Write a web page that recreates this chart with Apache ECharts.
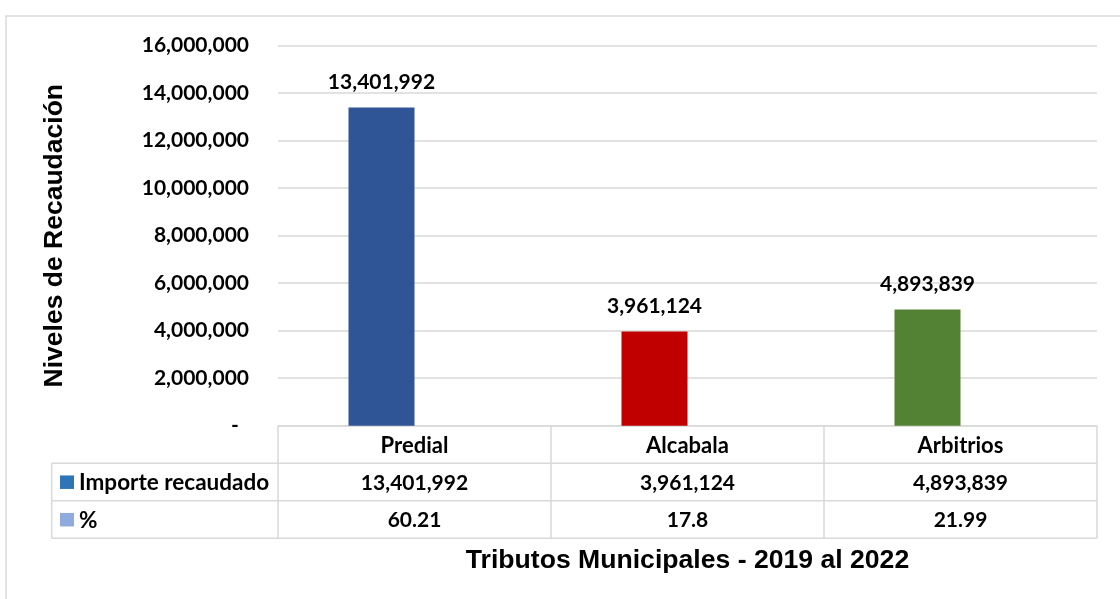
<!DOCTYPE html>
<html>
<head>
<meta charset="utf-8">
<script src="https://cdn.jsdelivr.net/npm/echarts@6/dist/echarts.min.js"></script>
<style>
html,body{margin:0;padding:0;background:#fff;}
#c{width:1120px;height:599px;}
</style>
</head>
<body>
<div id="c"></div>
<script>
// ---- data ----
const categories = ['Predial', 'Alcabala', 'Arbitrios'];
const importe = [13401992, 3961124, 4893839];
const porcentaje = ['60.21', '17.8', '21.99'];
const seriesNames = ['Importe recaudado', '%'];
const barColors = ['#2F5597', '#C00000', '#548235'];
const keyColors = ['#2E75B6', '#8FAADC'];
const yAxisTitle = 'Niveles de Recaudación';
const xAxisTitle = 'Tributos Municipales - 2019 al 2022';

const numFont = 'Lato';
const titleFont = 'Liberation Sans';
const fmt = v => Number(v).toLocaleString('en-US');
const gridColor = '#D9D9D9';

const chart = echarts.init(document.getElementById('c'), null, {renderer: 'canvas'});

const option = {
  backgroundColor: '#fff',
  animation: false,
  grid: {left: 278, right: 23, top: 45.7, bottom: 173.3, containLabel: false},
  xAxis: {
    type: 'category',
    data: categories,
    axisLine: {show: false},
    axisTick: {show: false},
    axisLabel: {show: false},
    name: xAxisTitle,
    nameLocation: 'middle',
    nameGap: 121,
    nameTextStyle: {fontFamily: titleFont, fontWeight: 'bold', fontSize: 26.6, color: '#000', verticalAlign: 'top'}
  },
  yAxis: {
    type: 'value',
    min: 0, max: 16000000, interval: 2000000,
    axisLine: {show: false},
    axisTick: {show: false},
    splitLine: {lineStyle: {color: gridColor, width: 1.5}},
    axisLabel: {
      margin: 29,
      fontFamily: numFont, fontWeight: 'bold', fontSize: 21, color: '#000',
      formatter: v => v === 0 ? '-  ' : fmt(v)
    },
    name: yAxisTitle,
    nameLocation: 'middle',
    nameGap: 210,
    nameRotate: 90,
    nameTextStyle: {fontFamily: titleFont, fontWeight: 'bold', fontSize: 26.5, color: '#000'}
  },
  series: [
    {
      name: seriesNames[0],
      type: 'bar',
      barWidth: 66,
      barGap: '0%',
      data: importe.map((v, i) => ({value: v, itemStyle: {color: barColors[i]}})),
      label: {
        show: true, position: 'top', distance: 15,
        fontFamily: numFont, fontWeight: 'bold', fontSize: 21, color: '#000',
        formatter: p => fmt(p.value)
      }
    },
    {
      name: seriesNames[1],
      type: 'bar',
      barWidth: 66,
      barGap: '0%',
      itemStyle: {color: keyColors[1]},
      data: porcentaje.map(Number)
    }
  ]
};
chart.setOption(option);

// ---- data table drawn below the plot, positioned from the axes ----
function buildTable() {
  const c0 = chart.convertToPixel({xAxisIndex: 0}, 0);
  const c1 = chart.convertToPixel({xAxisIndex: 0}, 1);
  const bw = c1 - c0;
  const xL = c0 - bw / 2;
  const xR = xL + bw * categories.length;
  const y0 = chart.convertToPixel({yAxisIndex: 0}, 0);
  const rowH = 37.5;
  const legendLeft = 51.7;
  const yB = y0 + rowH * 3;
  const ls = {stroke: gridColor, lineWidth: 1.5};
  const els = [];
  const line = (x1, y1, x2, y2) => els.push({type: 'line', shape: {x1, y1, x2, y2}, style: ls, silent: true});
  // outer chart border
  els.push({type: 'rect', shape: {x: 6, y: 16, width: 1300, height: 800}, style: {fill: null, stroke: gridColor, lineWidth: 1.5}, silent: true, z: -1});
  // horizontal lines
  line(xL, y0, xR, y0);
  line(legendLeft, y0 + rowH, xR, y0 + rowH);
  line(legendLeft, y0 + rowH * 2, xR, y0 + rowH * 2);
  line(legendLeft, yB, xR, yB);
  // vertical lines
  line(legendLeft, y0 + rowH, legendLeft, yB);
  for (let i = 0; i <= categories.length; i++) line(xL + bw * i, y0, xL + bw * i, yB);
  const txtStyle = {fontFamily: numFont, fontWeight: 'bold', fontSize: 21, fill: '#000', align: 'center', verticalAlign: 'middle'};
  const rows = [categories, importe.map(fmt), porcentaje];
  rows.forEach((r, ri) => {
    r.forEach((t, ci) => {
      els.push({type: 'text', x: xL + bw * (ci + 0.5), y: y0 + rowH * (ri + 0.5) + 1, style: Object.assign({text: String(t)}, txtStyle, ri === 0 ? {fontSize: 22} : {}), silent: true});
    });
  });
  // legend keys in the table
  seriesNames.forEach((n, i) => {
    const yc = y0 + rowH * (i + 1.5);
    els.push({type: 'rect', shape: {x: 60, y: yc - 6.5, width: 14, height: 13.5}, style: {fill: keyColors[i]}, silent: true});
    els.push({type: 'text', x: 79, y: yc + 1, style: {text: n, fontFamily: numFont, fontWeight: 'bold', fontSize: 22.5, fill: '#000', align: 'left', verticalAlign: 'middle'}, silent: true});
  });
  chart.setOption({graphic: {elements: els}});
}
buildTable();
</script>
</body>
</html>
